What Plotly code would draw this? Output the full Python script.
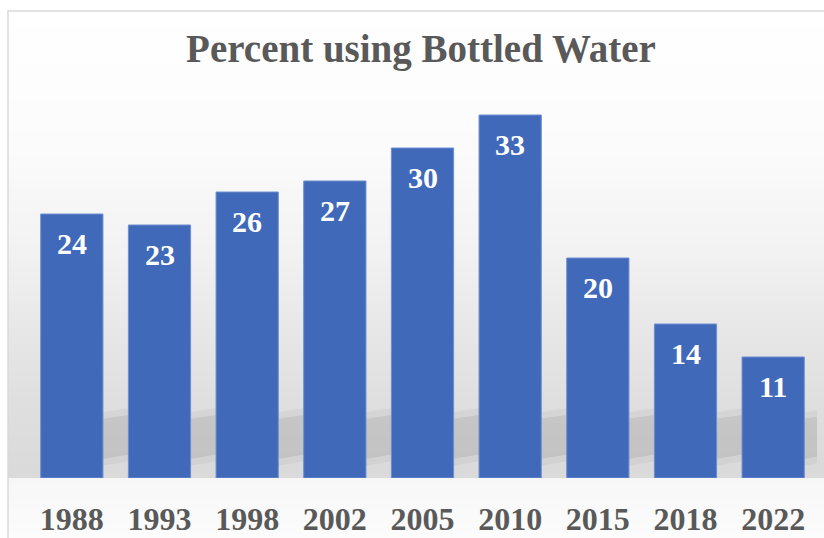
import plotly.graph_objects as go

years = ["1988", "1993", "1998", "2002", "2005", "2010", "2015", "2018", "2022"]
percent = [24, 23, 26, 27, 30, 33, 20, 14, 11]

W, H = 824, 538
ML, MR, MT, MB = 28, 7, 78, 60
PW = W - ML - MR
PH = H - MT - MB

def px_x(x):
    return (x - ML) / PW

def px_y(y):
    return (H - MB - y) / PH

FONT = "Liberation Serif"
BARGAP = 0.29
HW = (1 - BARGAP) / 2

fig = go.Figure()
fig.add_trace(go.Bar(
    x=years, y=percent,
    marker=dict(color="#4069BA", line=dict(color="#6E8FD0", width=1)),
    hoverinfo="skip",
))

# data labels near the top of each bar
for i, (yr, v) in enumerate(zip(years, percent)):
    fig.add_annotation(x=i, y=v, xref="x", yref="y", text=f"<b>{v}</b>",
                       showarrow=False, yanchor="top", yshift=-11,
                       font=dict(family=FONT, size=30, color="white"))

# background gradient
stops = [(0, 255), (11, 255), (150, 251), (250, 242), (330, 231), (400, 223),
         (470, 218), (478, 218), (479, 247), (538, 252)]
def gray_at(y):
    for (y0, g0), (y1, g1) in zip(stops, stops[1:]):
        if y0 <= y <= y1:
            t = 0 if y1 == y0 else (y - y0) / (y1 - y0)
            return g0 + (g1 - g0) * t
    return stops[-1][1]

shapes = []
step = 4
y = 11
while y < H:
    y2 = min(y + step, H)
    if y < 478 < y2:
        y2 = 478
    g = int(round(gray_at((y + y2) / 2)))
    shapes.append(dict(type="rect", xref="paper", yref="paper",
                       x0=px_x(8), x1=px_x(W + 2), y0=px_y(y2), y1=px_y(y),
                       fillcolor=f"rgb({g},{g},{g})", line=dict(width=0),
                       layer="below"))
    y = y2

# soft diagonal floor shadows behind bars
for i in range(len(years)):
    for grow, alpha in [(0.6, 0.04), (0.0, 0.07)]:
        x0 = i - HW
        x1 = i + HW + 0.35
        path = (f"M {x0},{0.8 - grow} L {x1},{2.2 - grow} "
                f"L {x1},{5.8 + grow} L {x0},{4.6 + grow} Z")
        shapes.append(dict(type="path", xref="x", yref="y", path=path,
                           fillcolor=f"rgba(0,0,0,{alpha})", line=dict(width=0),
                           layer="below"))

# frame
shapes.append(dict(type="rect", xref="paper", yref="paper",
                   x0=px_x(8), x1=px_x(W + 40), y0=px_y(H + 40), y1=px_y(11),
                   line=dict(color="#d9d9d9", width=1.5), fillcolor="rgba(0,0,0,0)",
                   layer="below"))

fig.update_layout(
    width=W, height=H,
    margin=dict(l=ML, r=MR, t=MT, b=MB, autoexpand=False),
    paper_bgcolor="white",
    plot_bgcolor="rgba(0,0,0,0)",
    bargap=BARGAP,
    showlegend=False,
    shapes=shapes,
    title=dict(text="<b>Percent using Bottled Water</b>",
               x=421 / W, xanchor="center", y=1 - 48 / H, yanchor="middle",
               yref="container",
               font=dict(family=FONT, size=39, color="#595959")),
    xaxis=dict(type="category", range=[-0.5, 8.5], showgrid=False,
               showline=False, ticks="", zeroline=False, ticklabelstandoff=19,
               automargin=False,
               tickfont=dict(family=FONT, size=32, color="#595959"),
               tickprefix="<b>", ticksuffix="</b>"),
    yaxis=dict(range=[0, PH / 11], showgrid=False, showline=False,
               zeroline=False, showticklabels=False, ticks="", automargin=False),
)

fig.write_html("out.html")
